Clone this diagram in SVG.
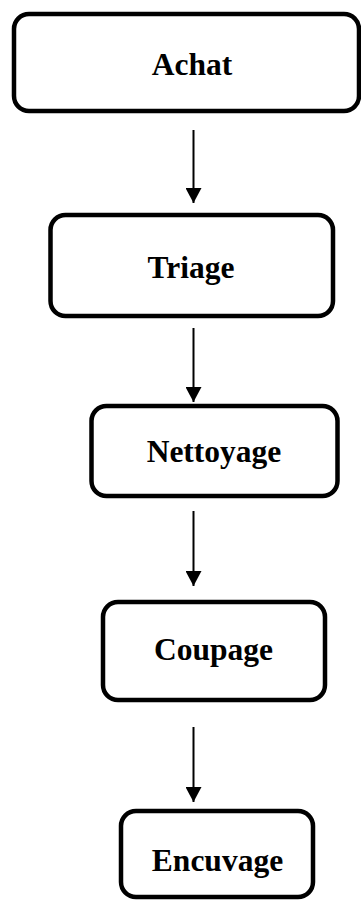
<svg xmlns="http://www.w3.org/2000/svg" width="361" height="900" viewBox="0 0 361 900">
<style>
.box{fill:#fff;stroke:#000;stroke-width:4.5}
.lbl{font-family:"Liberation Serif","Times New Roman",serif;font-weight:bold;font-size:31.5px;fill:#000;text-anchor:middle}
.conn{stroke:#000;stroke-width:2;fill:none}
</style>
<defs>
<marker id="ah" markerUnits="userSpaceOnUse" markerWidth="15" markerHeight="16" viewBox="0 0 15 16" refX="15" refY="8" orient="auto">
<path d="M0,0 L15,8 L0,16 z" fill="#000"/>
</marker>
</defs>
<rect width="361" height="900" fill="#fff"/>
<g id="connectors">
<line class="conn" x1="193.5" y1="130" x2="193.5" y2="203" marker-end="url(#ah)"/>
<line class="conn" x1="193.5" y1="328" x2="193.5" y2="402" marker-end="url(#ah)"/>
<line class="conn" x1="193.5" y1="511" x2="193.5" y2="586" marker-end="url(#ah)"/>
<line class="conn" x1="193.5" y1="727" x2="193.5" y2="802" marker-end="url(#ah)"/>
</g>
<g id="achat">
<rect class="box" x="14" y="14" width="345" height="97" rx="15"/>
<text class="lbl" x="192" y="75">Achat</text>
</g>
<g id="triage">
<rect class="box" x="50.5" y="215" width="282.5" height="101" rx="15"/>
<text class="lbl" x="191" y="278">Triage</text>
</g>
<g id="nettoyage">
<rect class="box" x="91.5" y="406" width="246" height="90" rx="15"/>
<text class="lbl" x="214" y="462">Nettoyage</text>
</g>
<g id="coupage">
<rect class="box" x="103" y="602" width="222" height="98" rx="15"/>
<text class="lbl" x="213.5" y="660">Coupage</text>
</g>
<g id="encuvage">
<rect class="box" x="121" y="811" width="192" height="86" rx="15"/>
<text class="lbl" x="217.5" y="871">Encuvage</text>
</g>
</svg>
